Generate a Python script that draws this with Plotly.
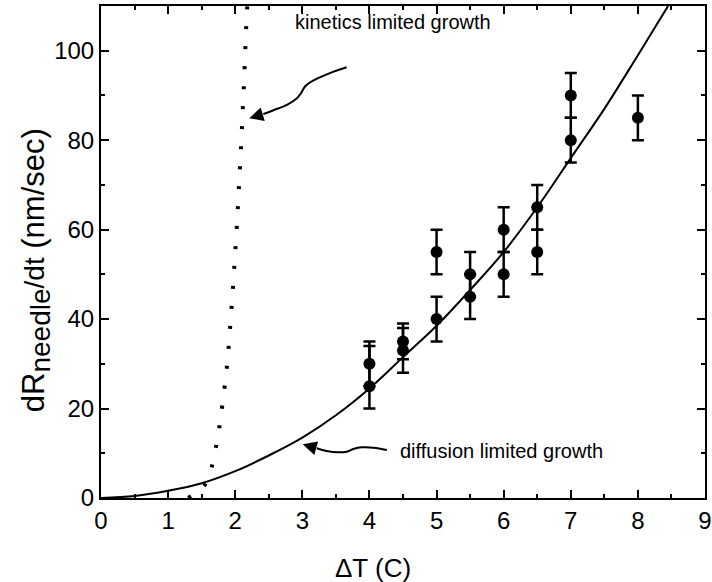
import plotly.graph_objects as go

dT = [4, 4, 4.5, 4.5, 5, 5, 5.5, 5.5, 6, 6, 6.5, 6.5, 7, 7, 8]
rate = [30, 25, 35, 33, 40, 55, 50, 45, 60, 50, 65, 55, 90, 80, 85]
err_plus = [5, 9, 4, 5, 5, 5, 5, 5, 5, 5, 5, 5, 5, 5, 5]
err_minus = [5, 5, 4, 5, 5, 5, 5, 5, 5, 5, 5, 5, 5, 5, 5]

# diffusion limited growth curve (solid)
diff_x = [0, 0.5, 1, 1.5, 2, 2.5, 3, 3.5, 4, 4.5, 5, 5.5, 6, 6.5, 7, 7.5, 8, 8.45]
diff_y = [0, 0.45, 1.6, 3.3, 6, 9.5, 13.5, 18.5, 24.5, 31.5, 38.5, 46.5, 55, 65, 76, 87, 99, 110]

# kinetics limited growth curve (dotted)
kin_x = [1.30, 1.45, 1.55, 1.66, 1.72, 1.77, 1.81, 1.88, 1.95, 2.01, 2.06, 2.12, 2.17, 2.18]
kin_y = [0, 1.5, 3, 7.5, 12, 16.5, 21, 30, 43.6, 57.3, 70.9, 89.2, 107.5, 110]

# annotation arrows (wiggly bodies) and labels
kin_arrow_x = [3.66, 3.41, 3.16, 3.04, 2.98, 2.92, 2.77, 2.57, 2.42]
kin_arrow_y = [96.3, 95.0, 93.3, 92.0, 90.5, 89.4, 87.9, 86.7, 85.85]
kin_tip = (2.21, 84.9)
diff_arrow_x = [4.26, 4.06, 3.885, 3.76, 3.66, 3.54, 3.36, 3.215]
diff_arrow_y = [10.73, 11.25, 11.33, 10.95, 10.35, 10.22, 10.51, 11.11]
diff_tip = (3.006, 12.0)
kin_label = ("kinetics limited growth", 2.86, 106.4)
diff_label = ("diffusion limited growth", 4.43, 10.5)

x_ticks = list(range(0, 10))
y_ticks = [0, 20, 40, 60, 80, 100]

FONT = "Liberation Sans, Arial, sans-serif"

fig = go.Figure()

fig.add_trace(go.Scatter(x=diff_x, y=diff_y, mode="lines", line=dict(color="black", width=2, shape="spline"),
                         showlegend=False, hoverinfo="skip"))
fig.add_trace(go.Scatter(x=kin_x, y=kin_y, mode="lines",
                         line=dict(color="black", width=4, dash="3px,17px", shape="spline"),
                         showlegend=False, hoverinfo="skip"))
fig.add_trace(go.Scatter(x=kin_arrow_x, y=kin_arrow_y, mode="lines", line=dict(color="black", width=2, shape="spline"),
                         showlegend=False, hoverinfo="skip"))
fig.add_trace(go.Scatter(x=diff_arrow_x, y=diff_arrow_y, mode="lines", line=dict(color="black", width=2, shape="spline"),
                         showlegend=False, hoverinfo="skip"))
fig.add_trace(go.Scatter(x=dT, y=rate, mode="markers",
                         marker=dict(color="black", size=12),
                         error_y=dict(type="data", symmetric=False, array=err_plus, arrayminus=err_minus,
                                      color="black", thickness=2.5, width=6),
                         showlegend=False))

# arrowheads
fig.add_annotation(x=kin_tip[0], y=kin_tip[1], ax=kin_arrow_x[-1], ay=kin_arrow_y[-1],
                   xref="x", yref="y", axref="x", ayref="y", text="", showarrow=True,
                   arrowhead=2, arrowsize=1.4, arrowwidth=2, arrowcolor="black")
fig.add_annotation(x=diff_tip[0], y=diff_tip[1], ax=diff_arrow_x[-1], ay=diff_arrow_y[-1],
                   xref="x", yref="y", axref="x", ayref="y", text="", showarrow=True,
                   arrowhead=2, arrowsize=1.4, arrowwidth=2, arrowcolor="black")

for txt, lx, ly in (kin_label, diff_label):
    fig.add_annotation(x=lx, y=ly, text=txt, showarrow=False, xanchor="left", yanchor="middle",
                       font=dict(family=FONT, size=20, color="black"))

# axis titles as annotations for precise placement
fig.add_annotation(xref="paper", yref="paper", x=0.451, y=0, yshift=-70, xanchor="center", yanchor="middle",
                   text="ΔT (C)", showarrow=False, font=dict(family=FONT, size=26, color="black"))
fig.add_annotation(xref="paper", yref="paper", x=0, xshift=-65, y=0.463, xanchor="center", yanchor="middle",
                   textangle=-90, showarrow=False,
                   text="dR<sub><span style='font-size:28px'>needle</span></sub>"
                        "<span style='font-size:28px'>/dt</span> (nm/sec)",
                   font=dict(family=FONT, size=31, color="black"))

axis_common = dict(showline=True, linecolor="black", linewidth=2, mirror="ticks", ticks="inside",
                   ticklen=8, tickwidth=1.5, tickcolor="black", showgrid=False, zeroline=False,
                   automargin=False, tickfont=dict(family=FONT, size=24, color="black"))

fig.update_xaxes(range=[0, 9], tickvals=x_ticks, ticktext=[str(v) for v in x_ticks],
                 minor=dict(ticks="inside", ticklen=4, tickwidth=1.5, tickcolor="black", dtick=0.5, tick0=0),
                 **axis_common)
fig.update_yaxes(range=[0, 110], tickvals=y_ticks, ticktext=[str(v) for v in y_ticks],
                 minor=dict(ticks="inside", ticklen=4, tickwidth=1.5, tickcolor="black", dtick=10, tick0=0),
                 **axis_common)

fig.update_layout(width=712, height=582, margin=dict(l=101, r=7, t=6, b=84, autoexpand=False),
                  plot_bgcolor="white", paper_bgcolor="white", showlegend=False)

fig.write_html("out.html", config={"displayModeBar": False},
               post_script="document.body.style.margin='0';document.body.style.padding='0';"
                           "document.body.style.overflow='hidden';")
